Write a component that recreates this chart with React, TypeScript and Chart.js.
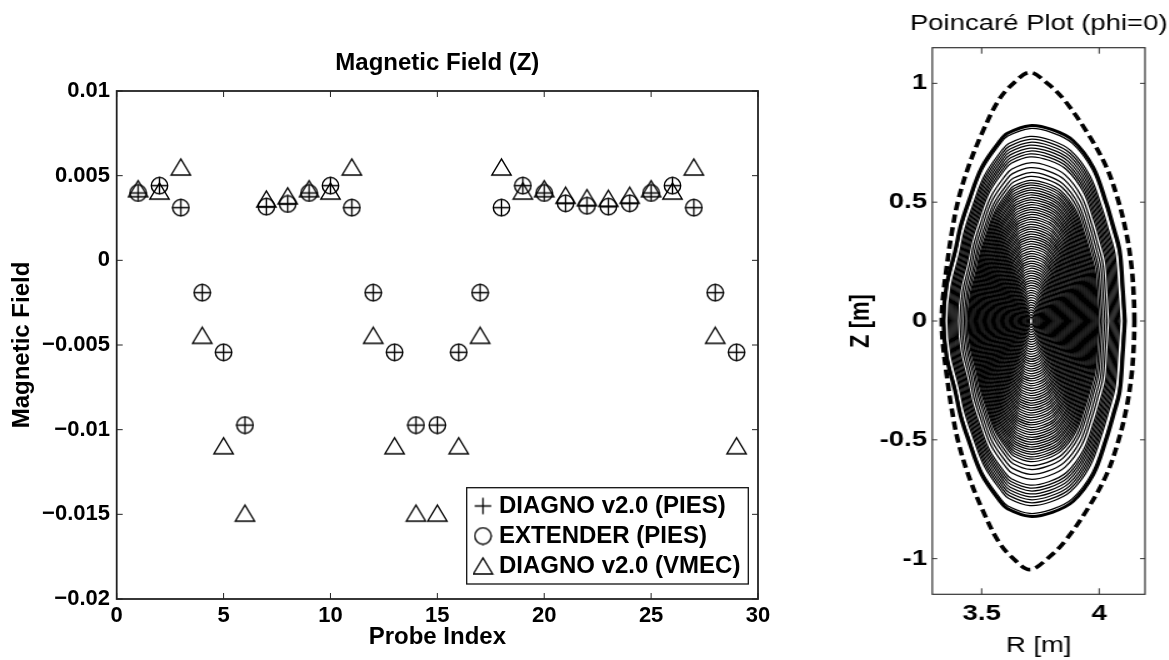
import React, { useEffect, useRef } from 'react';
import { Chart, registerables } from 'chart.js';

Chart.register(...registerables);

const FONT = "'Liberation Sans', Arial, Helvetica, sans-serif";

// ---------- Left chart data ----------
const probeIndex = [1, 2, 3, 4, 5, 6, 7, 8, 9, 10, 11, 12, 13, 14, 15, 16, 17, 18, 19, 20, 21, 22, 23, 24, 25, 26, 27, 28, 29];
const diagnoPies = [0.00398, 0.00441, 0.00311, -0.00191, -0.00543, -0.00973, 0.00317, 0.00333, 0.00398, 0.00441, 0.00311, -0.00191, -0.00543, -0.00973, -0.00973, -0.00543, -0.00191, 0.00311, 0.00441, 0.00398, 0.00337, 0.00322, 0.00317, 0.00337, 0.00398, 0.00441, 0.00311, -0.00191, -0.00543];
const extenderPies = [0.00398, 0.00441, 0.00311, -0.00191, -0.00543, -0.00973, 0.00317, 0.00333, 0.00398, 0.00441, 0.00311, -0.00191, -0.00543, -0.00973, -0.00973, -0.00543, -0.00191, 0.00311, 0.00441, 0.00398, 0.00337, 0.00322, 0.00317, 0.00337, 0.00398, 0.00441, 0.00311, -0.00191, -0.00543];
const diagnoVmec = [0.00423, 0.00409, 0.00551, -0.00443, -0.01095, -0.01493, 0.00362, 0.00381, 0.00423, 0.00409, 0.00551, -0.00443, -0.01095, -0.01493, -0.01493, -0.01095, -0.00443, 0.00551, 0.00409, 0.00423, 0.00384, 0.0037, 0.00366, 0.00384, 0.00423, 0.00409, 0.00551, -0.00443, -0.01095];
const seriesLabels = ['DIAGNO v2.0 (PIES)', 'EXTENDER (PIES)', 'DIAGNO v2.0 (VMEC)'];
const probeTicks = [0, 5, 10, 15, 20, 25, 30];
const probeTickLabels = ['0', '5', '10', '15', '20', '25', '30'];
const fieldTicks = [-0.02, -0.015, -0.01, -0.005, 0, 0.005, 0.01];
const fieldTickLabels = ['\u22120.02', '\u22120.015', '\u22120.01', '\u22120.005', '0', '0.005', '0.01'];

// ---------- Right chart data (upper half, right -> top -> left; mirrored below) ----------
const boundaryR = [4.15, 4.148, 4.138, 4.116, 4.081, 4.031, 3.953, 3.854, 3.783, 3.705, 3.632, 3.571, 3.5, 3.443, 3.4, 3.372, 3.351, 3.334, 3.33];
const boundaryZ = [0, 0.086, 0.226, 0.367, 0.507, 0.647, 0.787, 0.927, 0.997, 1.046, 0.997, 0.927, 0.787, 0.647, 0.507, 0.367, 0.226, 0.086, 0];
const lcfsR = [4.11, 4.1, 4.088, 4.06, 4.03, 3.975, 3.889, 3.8, 3.705, 3.61, 3.578, 3.5, 3.443, 3.41, 3.387, 3.35, 3.337];
const lcfsZ = [0, 0.15, 0.296, 0.4, 0.5, 0.647, 0.759, 0.805, 0.822, 0.79, 0.759, 0.647, 0.5, 0.4, 0.296, 0.15, 0];
const axisR = 3.71;
const surfaceLevels = [0.985, 0.945, 0.93, 0.915, 0.9, 0.885, 0.87, 0.855, 0.84, 0.81, 0.785, 0.76, 0.74, 0.72, 0.707, 0.695, 0.682, 0.67, 0.657, 0.645, 0.632, 0.62, 0.607, 0.595, 0.582, 0.57, 0.557, 0.545, 0.532, 0.52, 0.507, 0.495, 0.482, 0.47, 0.457, 0.445, 0.432, 0.42, 0.407, 0.395, 0.382, 0.37, 0.357, 0.345, 0.332, 0.32, 0.307, 0.295, 0.282, 0.27, 0.257, 0.245, 0.232, 0.22, 0.207, 0.195, 0.182, 0.17, 0.157, 0.145, 0.132, 0.12, 0.107, 0.095, 0.082, 0.07, 0.057, 0.045, 0.032, 0.02];
const rTicks = [3.5, 4];
const rTickLabels = ['3.5', '4'];
const zTicks = [-1, -0.5, 0, 0.5, 1];
const zTickLabels = ['-1', '-0.5', '0', '0.5', '1'];

function makeMarker(kind: 'plus' | 'circle' | 'triangle'): HTMLCanvasElement {
  const c = document.createElement('canvas');
  const w = kind === 'triangle' ? 23 : 19;
  const h = kind === 'triangle' ? 20 : 19;
  c.width = w;
  c.height = h;
  const g = c.getContext('2d')!;
  g.strokeStyle = '#000';
  g.lineWidth = 1.45;
  const cx = w / 2, cy = h / 2;
  g.beginPath();
  if (kind === 'circle') {
    g.arc(cx, cy, 8.2, 0, Math.PI * 2);
  } else if (kind === 'plus') {
    g.moveTo(cx, cy - 8.3); g.lineTo(cx, cy + 8.3);
    g.moveTo(cx - 8.3, cy); g.lineTo(cx + 8.3, cy);
  } else {
    g.moveTo(cx - 9.65, cy + 8); g.lineTo(cx + 9.65, cy + 8); g.lineTo(cx, cy - 8); g.closePath();
  }
  g.stroke();
  return c;
}

function closedLoop(Rs: number[], Zs: number[], level: number) {
  const pts: { x: number; y: number }[] = [];
  for (let i = 0; i < Rs.length; i++) pts.push({ x: axisR + level * (Rs[i] - axisR), y: level * Zs[i] });
  for (let i = Rs.length - 2; i >= 0; i--) pts.push({ x: axisR + level * (Rs[i] - axisR), y: -level * Zs[i] });
  return pts;
}

function framePlugin(cfg: any) {
  return {
    id: 'matlabFrame',
    afterLayout(chart: any) {
      if (cfg.legend && chart.legend) {
        const L = chart.legend;
        const b = cfg.legend;
        L.left = b.left + 6.3;
        L.top = b.top + 0.3;
        L.right = b.right;
        L.bottom = b.bottom;
        L.width = L.right - L.left;
        L.height = L.bottom - L.top;
      }
    },
    afterDraw(chart: any) {
      const { ctx, chartArea: a, scales } = chart;
      const xs = scales.x, ys = scales.y;
      ctx.save();
      ctx.strokeStyle = cfg.color;
      ctx.lineWidth = cfg.tickWidth;
      ctx.beginPath();
      for (const t of xs.ticks) {
        const px = xs.getPixelForValue(t.value);
        ctx.moveTo(px, a.bottom); ctx.lineTo(px, a.bottom - cfg.tickLenX);
        ctx.moveTo(px, a.top); ctx.lineTo(px, a.top + cfg.tickLenX);
      }
      for (const t of ys.ticks) {
        const py = ys.getPixelForValue(t.value);
        ctx.moveTo(a.left, py); ctx.lineTo(a.left + cfg.tickLenY, py);
        ctx.moveTo(a.right, py); ctx.lineTo(a.right - cfg.tickLenY, py);
      }
      ctx.stroke();
      ctx.lineWidth = cfg.lineWidth;
      ctx.strokeRect(a.left, a.top, a.right - a.left, a.bottom - a.top);
      if (cfg.legend) {
        const b = cfg.legend;
        ctx.lineWidth = 1.3;
        ctx.strokeStyle = '#111';
        ctx.strokeRect(b.left, b.top, b.right - b.left, b.bottom - b.top);
      }
      ctx.restore();
    },
  };
}

export default function App() {
  const leftRef = useRef<HTMLCanvasElement>(null);
  const rightRef = useRef<HTMLCanvasElement>(null);

  useEffect(() => {
    const plus = makeMarker('plus');
    const circle = makeMarker('circle');
    const tri = makeMarker('triangle');
    const toPts = (vals: number[]) => probeIndex.map((p, i) => ({ x: p, y: vals[i] }));

    const tickFontBold = { family: FONT, size: 22, weight: 'bold' as const };
    const labelFontBold = { family: FONT, size: 24, weight: 'bold' as const };

    const left = new Chart(leftRef.current!, {
      type: 'scatter',
      data: {
        datasets: [
          { label: seriesLabels[0], data: toPts(diagnoPies), pointStyle: plus as any, pointRadius: 8, showLine: false },
          { label: seriesLabels[1], data: toPts(extenderPies), pointStyle: circle as any, pointRadius: 8, showLine: false },
          { label: seriesLabels[2], data: toPts(diagnoVmec), pointStyle: tri as any, pointRadius: 9, showLine: false },
        ],
      },
      options: {
        animation: false,
        responsive: false,
        devicePixelRatio: 1,
        events: [],
        layout: { padding: { left: 0, right: 42, top: 0, bottom: 0 } },
        scales: {
          x: {
            type: 'linear', min: 0, max: 30,
            afterBuildTicks: (s: any) => { s.ticks = probeTicks.map((v) => ({ value: v })); },
            afterFit: (s: any) => { s.height = 61; },
            ticks: { callback: (_v: any, i: number) => probeTickLabels[i], font: tickFontBold, color: '#000', padding: 3.6, autoSkip: false, maxRotation: 0 },
            grid: { display: false, drawTicks: false },
            border: { display: false },
            title: { display: true, text: 'Probe Index', font: labelFontBold, color: '#000', padding: { top: 0, bottom: 8.6 } },
          },
          y: {
            type: 'linear', min: -0.02, max: 0.01,
            afterBuildTicks: (s: any) => { s.ticks = fieldTicks.map((v) => ({ value: v })); },
            afterFit: (s: any) => { s.width = 116.7; },
            ticks: { callback: (_v: any, i: number) => fieldTickLabels[i], font: tickFontBold, color: '#000', padding: 6.7, autoSkip: false },
            grid: { display: false, drawTicks: false },
            border: { display: false },
            title: { display: true, text: 'Magnetic Field', font: labelFontBold, color: '#000', padding: { top: 8.1, bottom: 0 } },
          },
        },
        plugins: {
          title: { display: true, text: 'Magnetic Field (Z)', fullSize: false, font: labelFontBold, color: '#000', padding: { top: 48.9, bottom: 13.3 } },
          legend: {
            display: true,
            position: 'chartArea' as any,
            align: 'start',
            labels: { usePointStyle: true, boxWidth: 8, padding: 6, font: labelFontBold, color: '#000' },
          },
          tooltip: { enabled: false },
        },
      },
      plugins: [framePlugin({ color: '#222', lineWidth: 1.8, tickWidth: 1, tickLenX: 6, tickLenY: 6, legend: { left: 466.7, top: 487.7, right: 748.3, bottom: 584 } })],
    });

    const surfaceSets = surfaceLevels.map((lv) => ({
      data: closedLoop(lcfsR, lcfsZ, lv), showLine: true, borderColor: '#000', borderWidth: 1.25, pointRadius: 0, tension: 0.35,
    }));
    const textFont = { family: FONT, size: 22, weight: 'normal' as const };
    const tickFont = { family: FONT, size: 22, weight: 'bold' as const };

    const right = new Chart(rightRef.current!, {
      type: 'scatter',
      data: {
        datasets: [
          { data: closedLoop(boundaryR, boundaryZ, 1), showLine: true, borderColor: '#000', borderWidth: 3.6, borderDash: [8.5, 4.5], pointRadius: 0, tension: 0.35 },
          { data: closedLoop(lcfsR, lcfsZ, 1), showLine: true, borderColor: '#000', borderWidth: 3, pointRadius: 0, tension: 0.35 },
          ...surfaceSets,
        ] as any,
      },
      options: {
        animation: false,
        responsive: false,
        devicePixelRatio: 1,
        events: [],
        layout: { padding: 0 },
        scales: {
          x: {
            type: 'linear', min: 3.29, max: 4.195,
            afterBuildTicks: (s: any) => { s.ticks = rTicks.map((v) => ({ value: v })); },
            afterFit: (s: any) => { s.height = 65.7; },
            ticks: { callback: (_v: any, i: number) => rTickLabels[i], font: tickFont, color: '#000', padding: 6.5, autoSkip: false, maxRotation: 0 },
            grid: { display: false, drawTicks: false },
            border: { display: false },
            title: { display: true, text: 'R [m]', font: textFont, color: '#000', padding: { top: 0, bottom: 1.3 } },
          },
          y: {
            type: 'linear', min: -1.15, max: 1.15,
            afterBuildTicks: (s: any) => { s.ticks = zTicks.map((v) => ({ value: v })); },
            afterFit: (s: any) => { s.width = 73.84; },
            ticks: { callback: (_v: any, i: number) => zTickLabels[i], font: tickFont, color: '#000', padding: 4.2, autoSkip: false },
            grid: { display: false, drawTicks: false },
            border: { display: false },
            title: { display: true, text: 'Z [m]', font: tickFont, color: '#000', padding: { top: 4, bottom: 0 } },
          },
          y2: {
            type: 'linear', position: 'right', display: true,
            ticks: { display: false },
            grid: { display: false, drawTicks: false },
            border: { display: false },
            afterFit: (s: any) => { s.width = 18; },
          },
        },
        plugins: {
          title: { display: true, text: 'Poincaré Plot (phi=0)', align: 'end', font: textFont, color: '#000', padding: { top: 10.8, bottom: 10.5 } },
          legend: { display: false },
          tooltip: { enabled: false },
        },
      },
      plugins: [framePlugin({ color: '#333', lineWidth: 1.2, tickWidth: 1, tickLenX: 6, tickLenY: 4 })],
    });

    return () => {
      left.destroy();
      right.destroy();
    };
  }, []);

  return (
    <div style={{ position: 'absolute', left: 0, top: 0, width: 1169, height: 660, background: '#fff', overflow: 'hidden' }}>
      <div style={{ position: 'absolute', left: 0, top: 0, width: 800, height: 660 }}>
        <canvas ref={leftRef} width={800} height={660} />
      </div>
      <div style={{ position: 'absolute', left: 840, top: 0, width: 262, height: 660, transform: 'scaleX(1.25)', transformOrigin: '0 0' }}>
        <canvas ref={rightRef} width={262} height={660} />
      </div>
    </div>
  );
}
